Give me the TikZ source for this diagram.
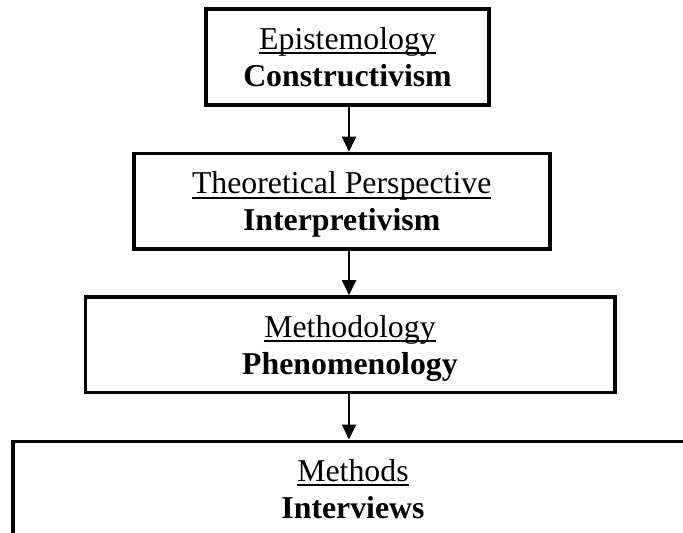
\documentclass[tikz,border=0pt]{standalone}
\usepackage{fontspec}
\setmainfont{Liberation Serif}
\usetikzlibrary{arrows.meta}
\newcommand\myul[1]{\setbox0\hbox{#1}\rlap{\rule[-4.8pt]{\wd0}{2.1pt}}\box0}
\tikzset{
  box/.style={draw, line width=3.6pt, minimum height=95.6pt, inner sep=0pt,
    align=center, font=\fontsize{31.8}{37}\selectfont},
  arr/.style={line width=2pt, -{Triangle[width=14pt,length=15pt]}}
}
\begin{document}
\begin{tikzpicture}[x=1pt,y=-1pt]
\useasboundingbox (0,0) rectangle (683,533);
\clip (0,0) rectangle (683,533);
\coordinate (ax) at (349,0);
\node[box, minimum width=283pt] (b1) at (347.5,57) {\myul{Epistemology}\\\smash{\textbf{Constructivism}}};
\node[box, minimum width=416pt] (b2) at (341.7,201.3) {\myul{Theoretical Perspective}\\\smash{\textbf{Interpretivism}}};
\node[box, minimum width=529.4pt] (b3) at (350,344.8) {\myul{Methodology}\\\smash{\textbf{Phenomenology}}};
\node[box, minimum width=680pt] (b4) at (353,489.1) {\myul{Methods}\\\smash{\textbf{Interviews}}};
\draw[arr] (b1.south -| ax) -- (b2.north -| ax);
\draw[arr] (b2.south -| ax) -- (b3.north -| ax);
\draw[arr] (b3.south -| ax) -- (b4.north -| ax);
\end{tikzpicture}
\end{document}
